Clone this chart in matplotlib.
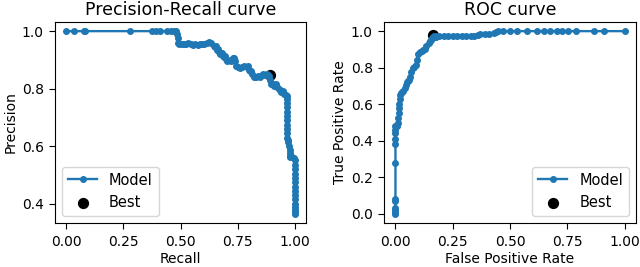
import matplotlib
matplotlib.use("Agg")
import matplotlib.pyplot as plt

# Precision-Recall curve
pr_recall = [0.000, 0.033, 0.076, 0.083, 0.277, 0.375, 0.394, 0.411, 0.442, 0.459,
             0.472, 0.480, 0.485, 0.487, 0.489, 0.495, 0.505, 0.515, 0.525, 0.535,
             0.545, 0.555, 0.565, 0.575, 0.585, 0.595, 0.605, 0.615, 0.625, 0.635,
             0.645, 0.650, 0.655, 0.660, 0.665, 0.670, 0.675, 0.680, 0.685, 0.690,
             0.695, 0.700, 0.705, 0.710, 0.720, 0.730, 0.735, 0.740, 0.745, 0.750,
             0.760, 0.770, 0.780, 0.790, 0.795, 0.800, 0.805, 0.810, 0.815, 0.820,
             0.830, 0.840, 0.850, 0.855, 0.860, 0.870, 0.880, 0.885, 0.890, 0.893,
             0.897, 0.905, 0.910, 0.918, 0.925, 0.930, 0.935, 0.940, 0.948, 0.955,
             0.963, 0.966, 0.966, 0.966, 0.966, 0.966, 0.967, 0.967, 0.967, 0.967,
             0.968, 0.968, 0.970, 0.972, 0.976, 0.978, 0.978, 0.978, 0.980, 0.990,
             0.997, 1.000, 1.000, 1.000, 1.000, 1.000, 1.000, 1.000, 1.000, 1.000,
             1.000, 1.000, 1.000, 1.000, 1.000, 1.000]
pr_precision = [1.000, 1.000, 1.000, 1.000, 1.000, 1.000, 1.000, 1.000, 1.000, 1.000,
                1.000, 1.000, 0.990, 0.975, 0.960, 0.956, 0.955, 0.956, 0.955, 0.960,
                0.957, 0.952, 0.955, 0.953, 0.956, 0.954, 0.957, 0.960, 0.961, 0.958,
                0.950, 0.945, 0.948, 0.936, 0.938, 0.928, 0.922, 0.925, 0.915, 0.910,
                0.913, 0.902, 0.895, 0.898, 0.896, 0.905, 0.908, 0.895, 0.880, 0.875,
                0.872, 0.875, 0.878, 0.874, 0.878, 0.866, 0.860, 0.862, 0.850, 0.842,
                0.840, 0.843, 0.841, 0.846, 0.850, 0.848, 0.852, 0.848, 0.845, 0.830,
                0.815, 0.818, 0.810, 0.815, 0.805, 0.800, 0.796, 0.790, 0.792, 0.782,
                0.778, 0.776, 0.765, 0.750, 0.735, 0.720, 0.705, 0.690, 0.675, 0.660,
                0.645, 0.630, 0.622, 0.615, 0.600, 0.588, 0.575, 0.565, 0.563, 0.562,
                0.560, 0.552, 0.535, 0.520, 0.505, 0.490, 0.475, 0.460, 0.445, 0.430,
                0.415, 0.400, 0.390, 0.380, 0.372, 0.365]
pr_best = (0.892, 0.849)

# ROC curve
roc_fpr = [0.000, 0.000, 0.000, 0.000, 0.000, 0.000, 0.000, 0.000, 0.000, 0.000,
           0.000, 0.000, 0.005, 0.008, 0.010, 0.012, 0.014, 0.015, 0.017, 0.018,
           0.020, 0.025, 0.030, 0.035, 0.040, 0.045, 0.050, 0.055, 0.061, 0.065,
           0.070, 0.076, 0.082, 0.088, 0.093, 0.098, 0.105, 0.115, 0.122, 0.127,
           0.135, 0.145, 0.152, 0.156, 0.160, 0.164, 0.170, 0.175, 0.180, 0.190,
           0.210, 0.230, 0.250, 0.270, 0.290, 0.310, 0.330, 0.345, 0.360, 0.370,
           0.390, 0.410, 0.430, 0.440, 0.446, 0.470, 0.500, 0.530, 0.575, 0.620,
           0.650, 0.675, 0.705, 0.727, 0.755, 0.790, 0.865, 0.912, 1.000]
roc_tpr = [0.000, 0.010, 0.020, 0.030, 0.070, 0.080, 0.280, 0.380, 0.410, 0.440,
           0.460, 0.480, 0.480, 0.485, 0.500, 0.526, 0.550, 0.580, 0.600, 0.630,
           0.650, 0.660, 0.669, 0.675, 0.690, 0.705, 0.720, 0.725, 0.732, 0.750,
           0.775, 0.800, 0.805, 0.812, 0.840, 0.877, 0.885, 0.892, 0.898, 0.904,
           0.920, 0.935, 0.945, 0.950, 0.960, 0.968, 0.972, 0.970, 0.972, 0.975,
           0.975, 0.975, 0.974, 0.975, 0.975, 0.974, 0.975, 0.975, 0.978, 0.982,
           0.985, 0.985, 0.988, 0.995, 1.000, 1.000, 1.000, 1.000, 1.000, 1.000,
           1.000, 1.000, 1.000, 1.000, 1.000, 1.000, 1.000, 1.000, 1.000]
roc_best = (0.166, 0.979)

plt.rcParams.update({
    'font.size': 10,
    'axes.titlesize': 12.5,
    'axes.labelsize': 10,
    'xtick.labelsize': 10,
    'ytick.labelsize': 10,
    'legend.fontsize': 10.5,
    'xtick.major.size': 4.5,
    'ytick.major.size': 4.5,
    'xtick.major.pad': 4,
    'ytick.major.pad': 3.5,
})

fig = plt.figure(figsize=(6.4, 2.67), dpi=100)
W, H = 640.0, 267.0
ax1 = fig.add_axes([55 / W, (H - 223) / H, (306 - 55) / W, (223 - 22) / H])
ax2 = fig.add_axes([384 / W, (H - 223) / H, (636 - 384) / W, (223 - 22) / H])

ax1.plot(pr_recall, pr_precision, marker='.', markersize=8, linewidth=1.7, label='Model', zorder=2)
ax1.scatter([pr_best[0]], [pr_best[1]], marker='o', s=50, color='black', label='Best', zorder=1)
ax1.set_title('Precision-Recall curve', pad=5)
ax1.set_xlabel('Recall', labelpad=2.5)
ax1.set_ylabel('Precision', labelpad=3)
ax1.set_xticks([0.0, 0.25, 0.5, 0.75, 1.0])
ax1.set_yticks([0.4, 0.6, 0.8, 1.0])
ax1.legend(loc='lower left')

ax2.plot(roc_fpr, roc_tpr, marker='.', markersize=8, linewidth=1.7, label='Model', zorder=2)
ax2.scatter([roc_best[0]], [roc_best[1]], marker='o', s=50, color='black', label='Best', zorder=1)
ax2.set_title('ROC curve', pad=5)
ax2.set_xlabel('False Positive Rate', labelpad=2.5)
ax2.set_ylabel('True Positive Rate', labelpad=3)
ax2.set_xticks([0.0, 0.25, 0.5, 0.75, 1.0])
ax2.legend(loc='lower right')

fig.savefig('out.png', dpi=100)
